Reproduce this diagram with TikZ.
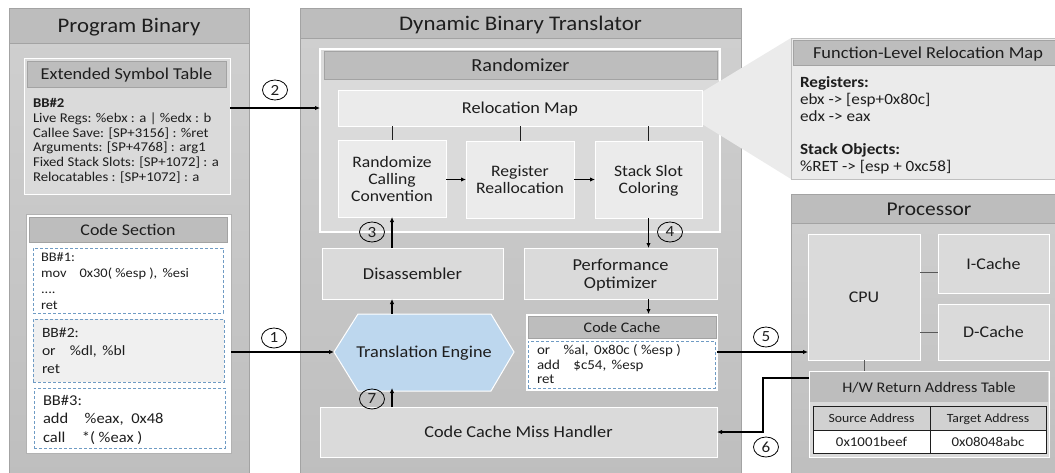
\documentclass[tikz,border=0pt]{standalone}
\usepackage{fontspec}
\setmainfont[FakeStretch=1.1]{Carlito}
\usetikzlibrary{arrows.meta,shapes.geometric}
\definecolor{hdr}{HTML}{BDBDBD}
\definecolor{edge}{HTML}{A3A3A3}
\definecolor{inner}{HTML}{DADADA}
\definecolor{pale}{HTML}{EBEBEB}
\definecolor{dash}{HTML}{6F9BC4}
\definecolor{tecol}{HTML}{BDD7EE}
\definecolor{ink}{HTML}{1E1E1E}
\definecolor{D2col}{HTML}{D0D0D0}
\definecolor{BEcol}{HTML}{BEBEBE}
\newcommand{\bx}[7][]{%
  \pgfmathsetmacro{\cxx}{(#3+#5)/2}\pgfmathsetmacro{\cyy}{(#4+#6)/2}%
  \pgfmathsetmacro{\wdd}{#5-#3}\pgfmathsetmacro{\htt}{#6-#4}%
  \node[#1,minimum width=\wdd pt,minimum height=\htt pt] (#2) at (\cxx,\cyy) {#7};}
\newcommand{\fs}[2]{\fontsize{#1}{#2}\selectfont}
\tikzset{
  x=1pt,y=-1pt,
  every node/.style={inner sep=0pt,outer sep=0pt,text=ink,text depth=0pt},
  panel/.style={rectangle,draw=edge,line width=1pt,top color=D2col,bottom color=BEcol},
  header/.style={rectangle,draw=edge,line width=1pt,fill=hdr},
  block/.style={rectangle,draw=white,line width=1pt,fill=inner,align=center},
  paleblock/.style={rectangle,draw=white,line width=1pt,fill=pale,align=center},
  dashbox/.style={rectangle,draw=dash,line width=0.8pt,dash pattern=on 3pt off 2pt},
  lbl/.style={anchor=west,align=left},
  num/.style={ellipse,draw=black,line width=0.8pt,fill=none,minimum width=25pt,minimum height=20pt,font=\fs{15.5}{15.5}},
  link/.style={draw=ink,line width=1pt},
  glink/.style={draw=black!65,line width=1pt},
  flow/.style={draw=black,line width=1.3pt,-{Latex[length=5pt,width=4.5pt]}},
}
\begin{document}
\begin{tikzpicture}
\useasboundingbox (0,0) rectangle (1055,472);
\clip (0,0) rectangle (1055,472);
% Program Binary
\bx[panel]{pb}{9}{8}{249}{480}{}
\bx[header,font=\fs{20.7}{20.7}]{pbh}{9}{8}{249}{43}{Program Binary}
\bx[block]{est}{24}{58}{230}{194}{}
\bx[header,font=\fs{16.6}{16.6}]{esth}{27}{61}{226}{87}{Extended Symbol Table}
\node[lbl,font=\fs{13.4}{14.75},anchor=north west] (estt) at (33,98.5)
  {\textbf{BB\#2}\\Live Regs: \%ebx : a | \%edx : b\\Callee Save: [SP+3156] : \%ret\\Arguments: [SP+4768] : arg1\\Fixed Stack Slots: [SP+1072] : a\\Relocatables : [SP+1072] : a};
\bx[rectangle,fill=white,draw=black!30,line width=1pt]{code}{26}{214}{231}{453}{}
\bx[header,font=\fs{16.3}{16.3}]{codeh}{29}{217}{227}{242}{Code Section}
\bx[dashbox]{bbone}{33}{248}{223}{313}{}
\node[lbl,font=\fs{13.1}{16.2}] (bbonet) at (41,281)
  {BB\#1:\\mov\hspace{1em}0x30( \%esp ),\hspace{0.4em}\%esi\\....\\ret};
\bx[dashbox,fill=black!6]{bbtwo}{33}{319}{224}{382}{}
\node[lbl,font=\fs{14.2}{18}] (bbtwot) at (42,351)
  {BB\#2:\\or\hspace{1em}\%dl,\hspace{0.4em}\%bl\\ret};
\bx[dashbox]{bbthree}{34}{388}{225}{448}{}
\node[lbl,font=\fs{15}{18.5}] (bbthreet) at (43,418.5)
  {BB\#3:\\add\hspace{1.1em}\%eax,\hspace{0.5em}0x48\\call\hspace{1.1em}*( \%eax )};
% Dynamic Binary Translator
\bx[panel]{dbt}{300}{8}{741}{480}{}
\bx[header,font=\fs{20.8}{20.8}]{dbth}{300}{8}{741}{38}{Dynamic Binary Translator}
\bx[block,line width=1.2pt]{rand}{320}{49}{720}{232}{}
\bx[header,font=\fs{18.4}{18.4}]{randh}{324}{51}{717}{79}{Randomizer}
\path[fill=pale] (702,92) -- (791,38) -- (791,179) -- (702,124) -- cycle;
\bx[paleblock,font=\fs{16.6}{16.6}]{map}{338}{90}{702}{126}{Relocation Map}
\bx[paleblock,font=\fs{16}{17}]{rcc}{338}{140}{446}{217}{Randomize\\Calling\\Convention}
\bx[paleblock,font=\fs{16}{17}]{rr}{466}{141}{574}{218}{Register\\Reallocation}
\bx[paleblock,font=\fs{16}{17}]{ssc}{595}{141}{702}{218}{Stack Slot\\Coloring}
\bx[block,font=\fs{16.7}{16.7}]{dis}{322}{248}{503}{299}{Disassembler}
\bx[block,font=\fs{16.7}{18}]{perf}{524}{248}{717}{299}{Performance\\Optimizer}
\path[draw=white,line width=1pt,fill=tecol]
  (334,352) -- (358,314) -- (491,314) -- (514,352) -- (491,391) -- (358,391) -- cycle;
\coordinate (tew) at (334,352);
\coordinate (ten) at (424,314);
\coordinate (tes) at (424,391);
\node[font=\fs{16.6}{16.6}] (te) at (424,352) {Translation Engine};
\bx[rectangle,fill=white,draw=white,line width=1pt]{cache}{526}{314}{717}{390}{}
\bx[header,font=\fs{14.6}{14.6}]{cacheh}{528}{316}{716}{338}{Code Cache}
\bx[dashbox]{cached}{528}{341}{715}{388}{}
\node[lbl,font=\fs{13.6}{14.5}] (cachet) at (537,364.5)
  {or\hspace{1em}\%al,\hspace{0.4em}0x80c ( \%esp )\\add\hspace{1em}\$c54,\hspace{0.4em}\%esp\\ret};
\bx[block,font=\fs{16.6}{16.6}]{miss}{320}{407}{717}{457}{Code Cache Miss Handler}
% Function-level map
\bx[rectangle,fill=pale,draw=black!25,line width=0.8pt]{flrm}{791}{38}{1075}{179}{}
\bx[header]{flrmh}{793}{40}{1075}{65}{}
\node[font=\fs{16.7}{16.7}] (flrmt) at (928,53) {Function-Level Relocation Map};
\node[lbl,font=\fs{15.6}{16.8},anchor=north west] (flrmb) at (800,76.5)
  {\textbf{Registers:}\\ebx -> [esp+0x80c]\\edx -> eax\\[16.8pt]\textbf{Stack Objects:}\\\%RET -> [esp + 0xc58]};
% Processor
\bx[panel]{proc}{791}{194}{1075}{480}{}
\bx[header]{proch}{791}{194}{1075}{223}{}
\node[font=\fs{19.5}{19.5}] (proct) at (929,209) {Processor};
\bx[block,font=\fs{16.3}{16.3}]{cpu}{808}{234}{920}{360}{CPU}
\bx[block,font=\fs{16.3}{16.3}]{ic}{938}{234}{1049}{293}{I-Cache}
\bx[block,font=\fs{16.3}{16.3}]{dc}{938}{304}{1049}{360}{D-Cache}
\bx[block]{hw}{809}{371}{1049}{457}{}
\bx[rectangle,fill=hdr,font=\fs{14.7}{14.7}]{hwh}{810}{372}{1048}{402}{H/W Return Address Table}
\bx[rectangle,fill=black!18,draw=ink,line width=0.8pt,font=\fs{12.5}{12.5}]{tsa}{813}{406}{930}{430}{Source Address}
\bx[rectangle,fill=black!18,draw=ink,line width=0.8pt,font=\fs{12.5}{12.5}]{tta}{930}{406}{1046}{430}{Target Address}
\bx[rectangle,fill=white,draw=ink,line width=0.8pt,font=\fs{13.5}{13.5}]{tsv}{813}{430}{930}{453}{0x1001beef}
\bx[rectangle,fill=white,draw=ink,line width=0.8pt,font=\fs{13.5}{13.5}]{ttv}{930}{430}{1046}{453}{0x08048abc}
% connectors
\draw[link] (rcc.north) -- (rcc.north |- map.south);
\draw[link] (rr.north) -- (rr.north |- map.south);
\draw[link] (ssc.north) -- (ssc.north |- map.south);
\draw[flow] (rcc.east |- rr.west) -- (rr.west);
\draw[flow] (rr.east) -- (ssc.west);
\draw[flow] (rcc.south |- dis.north) -- (rcc.south);
\draw[flow] (ssc.south) -- (ssc.south |- perf.north);
\draw[flow] (rcc.south |- ten) -- (rcc.south |- dis.south);
\draw[flow] (ssc.south |- perf.south) -- (ssc.south |- cache.north);
\draw[flow] (rcc.south |- miss.north) -- ([yshift=3pt]rcc.south |- tes);
\draw[flow] (map.west -| est.east) -- (map.west -| rand.west);
\draw[flow] (tew -| code.east) -- (tew);
\draw[flow] (tew -| cache.east) -- (tew -| cpu.west);
\coordinate (hwout) at (809,378);
\coordinate (bend) at (763,378);
\draw[flow] (hwout) -- (bend) -- (bend |- miss.east) -- (miss.east);
\draw[glink] (cpu.east |- 0,272) -- (ic.west |- 0,272);
\draw[glink] (cpu.east |- dc.west) -- (dc.west);
\draw[glink] (cpu.south) -- (cpu.south |- hw.north);
% numbers
\node[num] (n1) at (274,338) {1};
\node[num] (n2) at (275,90) {2};
\node[num] (n3) at (372,232) {3};
\node[num] (n4) at (670,232) {4};
\node[num] (n5) at (766,337) {5};
\node[num] (n6) at (766,447) {6};
\node[num] (n7) at (372,399) {7};
\end{tikzpicture}
\end{document}
